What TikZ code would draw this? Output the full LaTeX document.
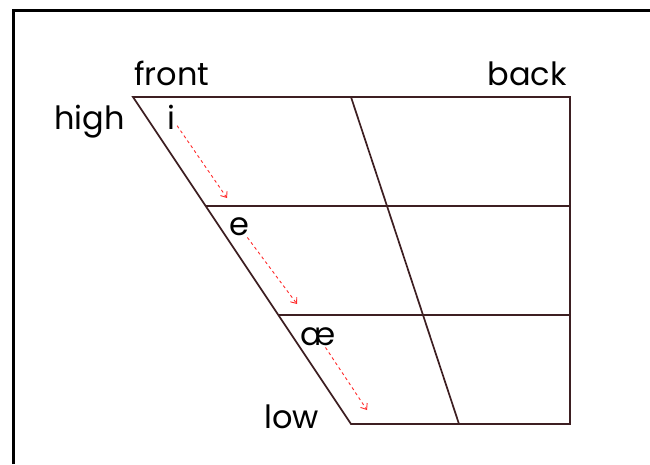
\documentclass[tikz,border=0pt]{standalone}
\usepackage{fontspec}
\setmainfont{Poppins}
\usepackage{tikz}
\usetikzlibrary{arrows.meta,calc}
\definecolor{Chart}{HTML}{3D1F22}
\definecolor{Glide}{HTML}{FF2B2B}

\begin{document}
\begin{tikzpicture}[x=1pt,y=-1pt,>={Straight Barb[length=5pt,width=8pt]}]
\tikzset{chart/.style={draw=Chart,line width=1.7pt}, glide/.style={->,Glide,dashed,line width=0.9pt}, tag/.style={font=\fontsize{32}{34}\selectfont,inner sep=0pt}, vowel/.style={tag,anchor=base,inner sep=2pt}}
\useasboundingbox (0,0) rectangle (650,464);
\draw[line width=3pt] (13,464) -- (13,10) -- (650,10);
% vowel chart
\coordinate (fh) at (133,97);
\coordinate (bh) at (570,97);
\coordinate (bl) at (570,424);
\coordinate (fl) at (351,424);
\coordinate (ch) at (351,97);
\coordinate (cl) at (459,424);
\draw[chart] (fh) -- (bh) -- (bl) -- (fl) -- cycle;
\draw[chart] (ch) -- (cl);
\draw[chart] ($(fh)!1/3!(fl)$) -- ($(bh)!1/3!(bl)$);
\draw[chart] ($(fh)!2/3!(fl)$) -- ($(bh)!2/3!(bl)$);
\node[tag,anchor=base west] (front) at (134,85) {front};
\node[tag,anchor=base east] (back) at (567,85) {back};
\node[tag,anchor=base east] (high) at (125,129) {high};
\node[tag,anchor=base east] (low) at (319,428) {low};
\node[vowel] (vi) at (171,129) {i};
\node[vowel] (ve) at (239,235) {e};
\node[vowel] (vae) at (318,345) {æ};
\coordinate (g1) at (227,198);
\coordinate (g2) at (297,304);
\coordinate (g3) at (367,410);
\draw[glide] (vi) -- (g1);
\draw[glide] (ve) -- (g2);
\draw[glide] (vae) -- (g3);
\end{tikzpicture}
\end{document}
